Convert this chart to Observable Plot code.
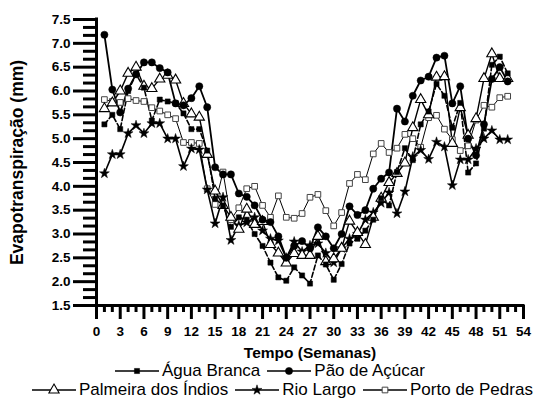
<!DOCTYPE html>
<html><head><meta charset="utf-8">
<script src="https://cdn.jsdelivr.net/npm/d3@7"></script>
<script src="https://cdn.jsdelivr.net/npm/@observablehq/plot@0.6"></script>
<style>
body{margin:0;background:#fff;font-family:"Liberation Sans",Arial,sans-serif;}
#wrap{position:relative;width:537px;height:399px;overflow:hidden;background:#fff}
#chart svg{display:block}
.row{position:absolute;white-space:nowrap;display:flex;align-items:center;font-size:17px;line-height:17px;color:#000;height:17px}
.row svg{display:block;flex:none}
.row .t{margin-left:3px;margin-right:7px}
</style></head><body><div id="wrap"><div id="chart"></div></div>
<script>
// ---- data ----
const weeks = d3.range(1, 53);
const seriesNames = ["Água Branca", "Pão de Açúcar", "Palmeira dos Índios", "Rio Largo", "Porto de Pedras"];
const aguaBranca = [5.3,5.5,5.2,6.0,6.35,6.07,5.38,5.82,5.78,5.75, 5.53,5.2,5.2,4.75,3.74,3.6,3.15,3.35,3.3,3.0, 2.75,2.4,2.09,2.02,2.3,2.13,1.96,2.55,2.36,2.04, 2.37,2.8,2.9,3.07,3.3,3.75,3.6,4.3,4.8,4.55, 5.3,5.57,6.15,5.9,5.23,5.75,4.29,4.48,5.21,6.55, 6.72,6.37];
const paoDeAcucar = [7.18,6.03,5.55,6.05,6.35,6.6,6.6,6.48,6.39,5.74, 5.7,5.85,6.1,5.66,4.4,4.25,4.25,3.85,3.78,3.6, 3.3,3.25,2.95,2.5,2.75,2.85,2.7,3.14,2.95,2.7, 3.0,3.58,3.4,3.5,3.95,4.16,4.29,5.63,5.36,5.9, 6.22,6.3,6.7,6.74,5.74,6.1,5.0,4.65,5.3,6.25, 6.5,6.2];
const palmeiraDosIndios = [5.63,5.75,6.0,6.37,6.5,6.1,6.05,6.25,6.33,6.23, 5.74,5.52,5.45,4.67,3.9,3.6,3.35,3.1,3.52,3.2, 3.26,2.78,2.6,2.39,2.59,2.55,2.55,2.95,2.42,2.48, 2.7,3.27,3.03,2.78,3.35,3.75,4.08,4.27,4.49,5.23, 5.82,5.5,6.29,6.3,4.9,5.65,5.07,5.42,6.26,6.78, 6.26,6.26];
const rioLargo = [4.27,4.67,4.67,5.11,5.28,5.11,5.32,5.32,5.0,5.0, 4.42,4.79,4.77,3.93,3.22,3.77,2.87,3.18,3.24,3.35, 3.07,2.9,2.86,2.5,2.84,2.63,2.76,2.8,2.6,2.4, 2.7,2.9,3.0,3.3,3.45,3.65,3.87,3.43,3.89,4.62, 4.76,4.57,4.93,4.83,4.02,4.56,4.56,4.79,5.0,5.17, 4.98,4.98];
const portoDePedras = [5.82,5.78,5.76,5.84,5.8,5.78,5.65,5.58,5.5,5.42, 4.92,4.92,4.9,3.95,3.62,4.3,3.3,3.55,3.95,4.0, 3.6,3.35,3.8,3.35,3.33,3.43,3.77,3.83,3.49,3.17, 3.45,4.06,4.25,4.14,4.68,4.9,4.71,4.8,5.09,5.0, 4.82,5.44,5.49,5.2,4.98,4.75,4.85,5.39,5.7,5.66, 5.86,5.89];
const xTickValues = d3.range(0, 55, 3);
const yTickValues = [1.5,2.0,2.5,3.0,3.5,4.0,4.5,5.0,5.5,6.0,6.5,7.0,7.5];
const xLabel = "Tempo (Semanas)";
const yLabel = "Evapotranspiração (mm)";

// ---- styles (separate from data) ----
const valuesByName = {
  "Água Branca": aguaBranca, "Pão de Açúcar": paoDeAcucar,
  "Palmeira dos Índios": palmeiraDosIndios, "Rio Largo": rioLargo, "Porto de Pedras": portoDePedras
};
const styles = {
  "Água Branca":        {symbol: "square",   r: 2.9, fill: "#000", stroke: "#000", sw: 0.5, lw: 1.6, dash: "5,2.5"},
  "Pão de Açúcar":      {symbol: "circle",   r: 3.6, fill: "#000", stroke: "#000", sw: 0.5, lw: 1.8, dash: null},
  "Palmeira dos Índios":{symbol: "triangle", r: 3.8, fill: "#fff", stroke: "#000", sw: 1.1, lw: 1.4, dash: null},
  "Rio Largo":          {symbol: "star",     r: 3.1, fill: "#000", stroke: "#000", sw: 0.5, lw: 1.6, dash: null},
  "Porto de Pedras":    {symbol: "square",   r: 3.2, fill: "#fff", stroke: "#444", sw: 1.0, lw: 1.0, dash: null}
};
const drawOrder = ["Porto de Pedras", "Rio Largo", "Palmeira dos Índios", "Água Branca", "Pão de Açúcar"];

const rows = seriesNames.flatMap(name => valuesByName[name].map((v, i) => ({name, week: weeks[i], value: v})));

const minorY = d3.range(0, 37).filter(i => i % 3 !== 0).map(i => 1.5 + i / 6);
const minorX = d3.range(0, 55).filter(d => d % 3 !== 0);

const lineMarks = drawOrder.map(name => {
  const s = styles[name];
  return Plot.line(rows.filter(d => d.name === name), {x: "week", y: "value", stroke: "#000", strokeWidth: s.lw, strokeDasharray: s.dash || undefined});
});
const dotMarks = drawOrder.map(name => {
  const s = styles[name];
  return Plot.dot(rows.filter(d => d.name === name), {x: "week", y: "value", symbol: s.symbol, r: s.r, fill: s.fill, stroke: s.stroke, strokeWidth: s.sw});
});

const chart = Plot.plot({
  width: 537, height: 362,
  marginLeft: 96, marginRight: 14, marginTop: 19, marginBottom: 57,
  x: {domain: [0, 54]},
  y: {domain: [1.5, 7.5]},
  style: {fontFamily: "'Liberation Sans', Arial, sans-serif", background: "#fff", color: "#000"},
  marks: [
    Plot.axisY(minorY, {tickSize: 13, strokeWidth: 3, fill: "none", label: null}),
    Plot.axisY(yTickValues, {tickSize: 23, strokeWidth: 3, tickPadding: 3, tickFormat: d => d.toFixed(1),
      fontSize: 13.5, fontWeight: "bold", label: null}),
    Plot.axisX(minorX, {tickSize: 7, strokeWidth: 3, fill: "none", label: null}),
    Plot.axisX(xTickValues, {tickSize: 14, strokeWidth: 3, tickPadding: 7,
      fontSize: 13.5, fontWeight: "bold", label: null}),
    Plot.text([xLabel], {frameAnchor: "bottom", textAnchor: "middle", lineAnchor: "middle", dy: 48, fontSize: 15.5, fontWeight: "bold"}),
    Plot.text([yLabel], {frameAnchor: "left", textAnchor: "middle", lineAnchor: "middle", rotate: -90, dx: -79, fontSize: 17.5, fontWeight: "bold"}),
    Plot.ruleX([0], {strokeWidth: 3, strokeLinecap: "square"}),
    Plot.ruleY([1.5], {strokeWidth: 3, strokeLinecap: "square"}),
    ...lineMarks,
    ...dotMarks
  ]
});
document.getElementById("chart").appendChild(chart);

// ---- legend (below the SVG) ----
function legendSwatch(name) {
  const s = styles[name];
  const w = 44, h = 16;
  const svg = d3.create("svg").attr("width", w).attr("height", h);
  svg.append("line").attr("x1", 0).attr("x2", w).attr("y1", h / 2).attr("y2", h / 2).attr("stroke", "#000").attr("stroke-width", 1.5);
  const typeMap = {square: d3.symbolSquare, circle: d3.symbolCircle, triangle: d3.symbolTriangle, star: d3.symbolStar};
  svg.append("path").attr("transform", `translate(${w / 2},${h / 2})`)
    .attr("d", d3.symbol(typeMap[s.symbol], Math.PI * s.r * s.r)())
    .attr("fill", s.fill).attr("stroke", s.stroke).attr("stroke-width", s.sw);
  return svg.node();
}
const legendRows = [
  {left: 115, top: 362, names: ["Água Branca", "Pão de Açúcar"]},
  {left: 32, top: 381, names: ["Palmeira dos Índios", "Rio Largo", "Porto de Pedras"]}
];
const wrap = document.getElementById("wrap");
legendRows.forEach(r => {
  const div = document.createElement("div");
  div.className = "row";
  div.style.left = r.left + "px";
  div.style.top = r.top + "px";
  r.names.forEach(name => {
    div.appendChild(legendSwatch(name));
    const t = document.createElement("span");
    t.className = "t";
    t.textContent = name;
    div.appendChild(t);
  });
  wrap.appendChild(div);
});
</script></body></html>
